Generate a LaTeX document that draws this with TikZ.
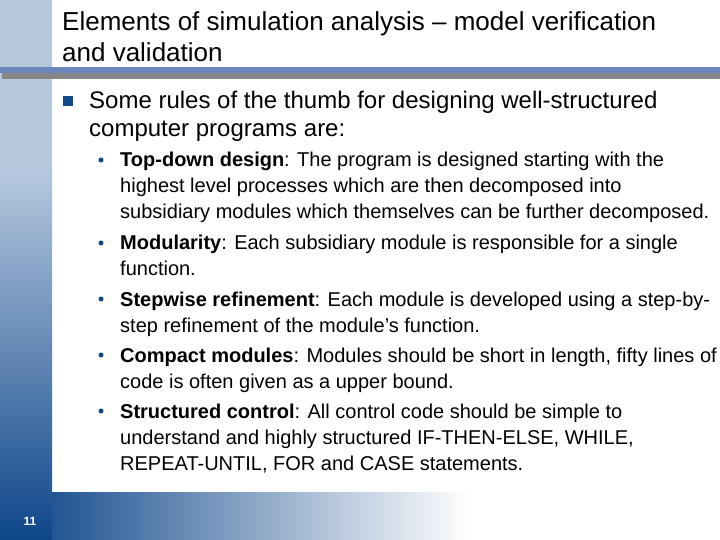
\documentclass[tikz,border=0pt]{standalone}
\usepackage{fontspec}
\setmainfont{Liberation Sans}
\definecolor{stripLight}{RGB}{182,200,222}
\definecolor{stripDark}{RGB}{14,70,138}
\definecolor{barBlue}{RGB}{106,134,189}
\definecolor{barGray}{RGB}{134,134,134}
\definecolor{bulletBlue}{RGB}{18,72,140}
\tikzset{
  titletext/.style={anchor=base west, inner sep=0pt, align=left, font=\fontsize{26bp}{31bp}\selectfont},
  lvlone/.style={anchor=base west, inner sep=0pt, align=left, font=\fontsize{24bp}{28bp}\selectfont},
  lvltwo/.style={anchor=base west, inner sep=0pt, align=left, font=\fontsize{20bp}{26bp}\selectfont},
  sqbullet/.style={fill=bulletBlue, draw=none, minimum size=10bp, inner sep=0pt, rectangle},
  dotbullet/.style={fill=bulletBlue, draw=none, minimum size=5bp, inner sep=0pt, circle},
}
\begin{document}
\begin{tikzpicture}[x=1bp,y=-1bp]
\useasboundingbox (0,0) rectangle (720,540);
\fill[white] (0,0) rectangle (720,540);
% left strip
\fill[stripLight] (0,0) rectangle (52,170);
\shade[top color=stripLight, bottom color=stripDark] (0,169.5) rectangle (52,540);
% bottom band
\shade[left color=stripDark!92!white, right color=white] (52,492) rectangle (470,540);
% title bar
\fill[barBlue] (0,67) rectangle (720,73.5);
\fill[barGray] (2,73.5) rectangle (720,79);
% title (anchor = baseline of last line)
\node[titletext] (title) at (62,62) {Elements of simulation analysis -- model verification\\and validation};
% level one
\node[sqbullet] (b1) at (68,101) {};
\node[lvlone] (l1) at (89,137) {Some rules of the thumb for designing well-structured\\computer programs are:};
% level two
\node[dotbullet] (d1) at (101,160) {};
\node[lvltwo] (i1) at (120,219) {\textbf{Top-down design}: The program is designed starting with the\\highest level processes which are then decomposed into\\subsidiary modules which themselves can be further decomposed.};
\node[dotbullet] (d2) at (101,243) {};
\node[lvltwo] (i2) at (120,276) {\textbf{Modularity}: Each subsidiary module is responsible for a single\\function.};
\node[dotbullet] (d3) at (101,299) {};
\node[lvltwo] (i3) at (120,332) {\textbf{Stepwise refinement}: Each module is developed using a step-by-\\step refinement of the module’s function.};
\node[dotbullet] (d4) at (101,355) {};
\node[lvltwo] (i4) at (120,388) {\textbf{Compact modules}: Modules should be short in length, fifty lines of\\code is often given as a upper bound.};
\node[dotbullet] (d5) at (101,411) {};
\node[lvltwo] (i5) at (120,470) {\textbf{Structured control}: All control code should be simple to\\understand and highly structured IF-THEN-ELSE, WHILE,\\REPEAT-UNTIL, FOR and CASE statements.};
% slide number
\node[text=white, font=\bfseries\fontsize{12bp}{14bp}\selectfont, inner sep=0pt] (num) at (30,521) {11};
\end{tikzpicture}
\end{document}
